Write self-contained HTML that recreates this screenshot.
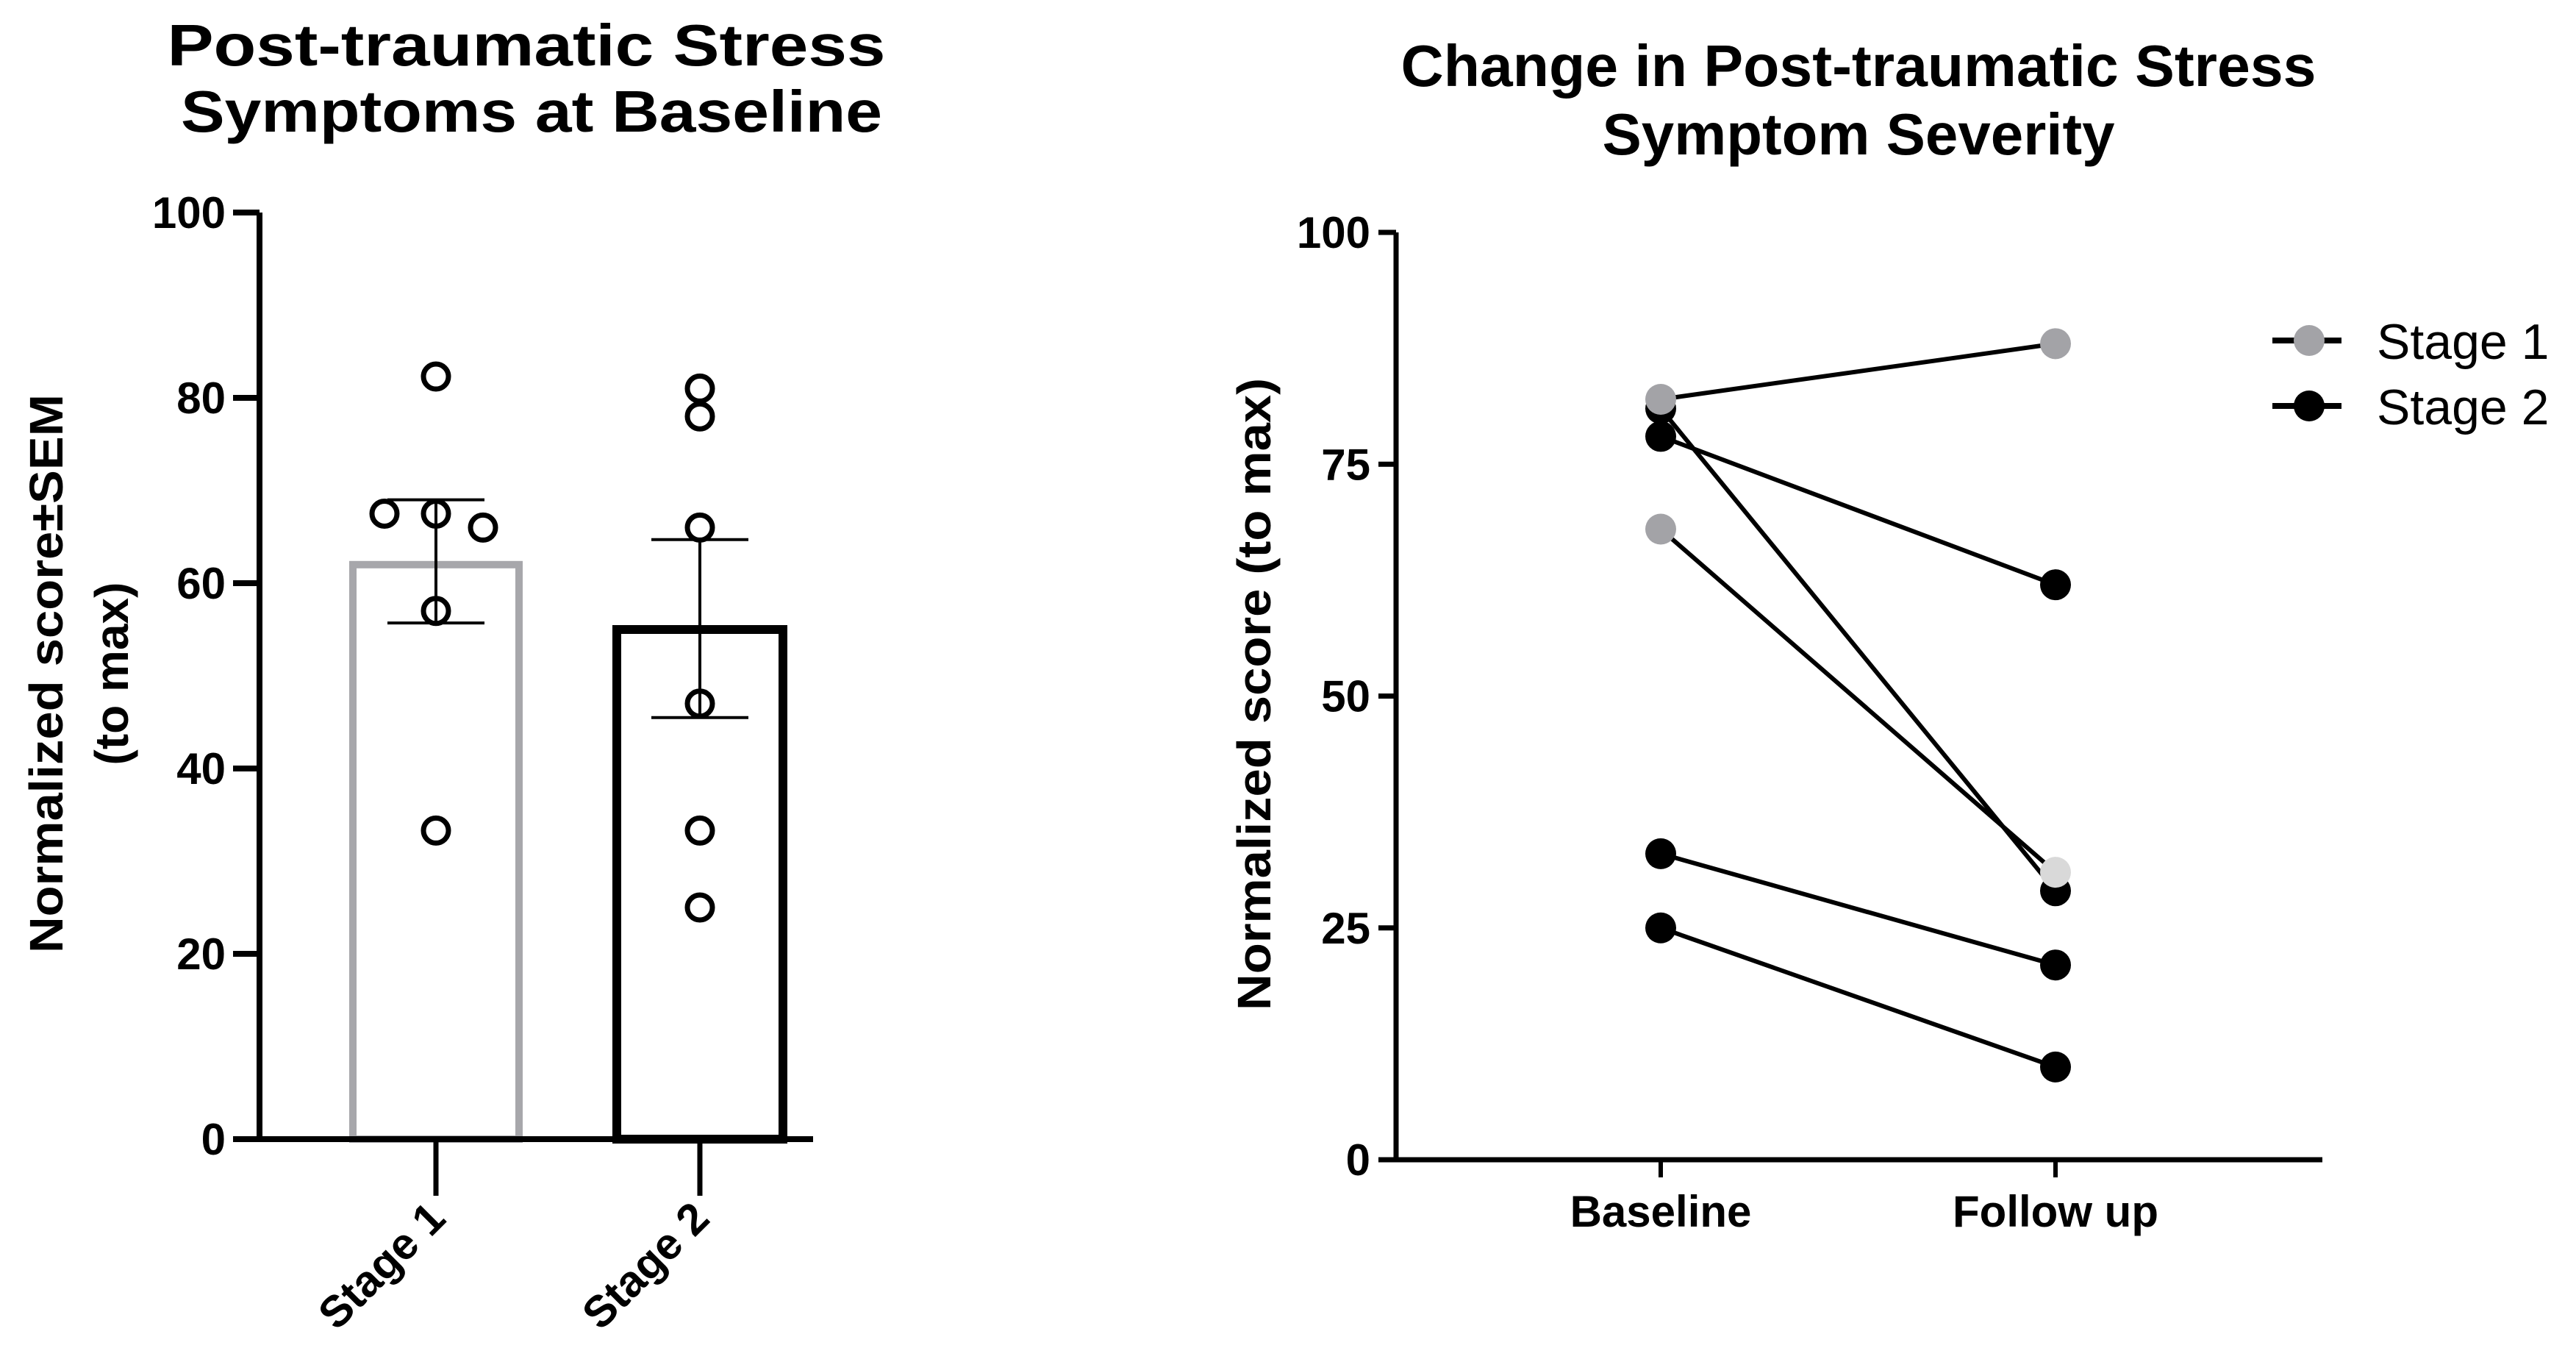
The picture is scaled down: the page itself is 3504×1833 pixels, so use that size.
<!DOCTYPE html>
<html><head><meta charset="utf-8"><style>
html,body{margin:0;padding:0;background:#fff;}
svg{display:block;font-family:"Liberation Sans",Arial,sans-serif;}
</style></head><body>
<svg id="root" width="3504" height="1833" viewBox="0 0 3504 1833" xmlns="http://www.w3.org/2000/svg">
<g id="left"></g>
<g id="right"></g>
</svg>
<script>
// ---- Left chart data ----
const barCategories = ["Stage 1", "Stage 2"];
const barMeans = [62, 55];
const barSemLow = [55.7, 45.5];
const barSemHigh = [69, 64.7];
const stage1Points = [82.3, 67.5, 67.5, 66, 57, 33.3];
const stage2Points = [81, 78, 66, 47, 33.3, 25];
const leftTicks = [0, 20, 40, 60, 80, 100];
// ---- Right chart data ----
const timeCategories = ["Baseline", "Follow up"];
const pairBaseline = [82, 68, 81, 78, 33, 25];
const pairFollow = [88, 31, 29, 62, 21, 10];
const pairGroup = [1, 1, 2, 2, 2, 2];
const rightTicks = [0, 25, 50, 75, 100];

const NS = "http://www.w3.org/2000/svg";
function mk(parent, tag, attrs, text) {
  const e = document.createElementNS(NS, tag);
  for (const k in attrs) e.setAttribute(k, attrs[k]);
  if (text !== undefined) e.textContent = text;
  parent.appendChild(e);
  return e;
}

// ===== LEFT =====
const L = document.getElementById("left");
const lx0 = 353, lx1 = 1106, ly0 = 1549, ly100 = 289;
const ly = v => ly0 - (ly0 - ly100) * v / 100;
const barCx = [593, 952];
const barHalf = 113;
const jitter1 = [0, -70, 0, 64, 0, 0];

let t = mk(L, "text", {x: 716, y: 89, "text-anchor": "middle", "font-size": 80, "font-weight": "bold", textLength: 977, lengthAdjust: "spacingAndGlyphs"}, "Post-traumatic Stress");


t = mk(L, "text", {x: 723, y: 179, "text-anchor": "middle", "font-size": 80, "font-weight": "bold", textLength: 954, lengthAdjust: "spacingAndGlyphs"}, "Symptoms at Baseline");



// bars
barMeans.forEach((m, i) => {
  const r = mk(L, "rect", {x: barCx[i] - barHalf, y: ly(m), width: barHalf * 2, height: ly0 - ly(m), fill: "#fff", stroke: i === 0 ? "#a7a7ab" : "#000", "stroke-width": i === 0 ? 10 : 12});
  
  
});
// axes
let a = mk(L, "path", {d: `M${lx0} ${ly100} V${ly0} H${lx1}`, fill: "none", stroke: "#000", "stroke-width": 8});


leftTicks.forEach(v => {
  const tk = mk(L, "line", {x1: lx0 - 36, x2: lx0, y1: ly(v), y2: ly(v), stroke: "#000", "stroke-width": 8});
  
  
  const tl = mk(L, "text", {x: 307, y: ly(v) + 21, "text-anchor": "end", "font-size": 60, "font-weight": "bold"}, String(v));
  
  
});
barCategories.forEach((c, i) => {
  const tk = mk(L, "line", {x1: barCx[i], x2: barCx[i], y1: ly0, y2: 1626, stroke: "#000", "stroke-width": 7});
  
  
  const ax = barCx[i] + 16, ay = 1660;
  const tl = mk(L, "text", {x: ax, y: ay, "text-anchor": "end", "font-size": 60, "font-weight": "bold", transform: `rotate(-45 ${ax} ${ay})`}, c);
  
  
});
// points
[stage1Points, stage2Points].forEach((pts, i) => {
  pts.forEach((v, j) => {
    const dx = i === 0 ? jitter1[j] : 0;
    const c = mk(L, "circle", {cx: barCx[i] + dx, cy: ly(v), r: 17, fill: "none", stroke: "#000", "stroke-width": 7});
    
    
  });
});
// error bars
barMeans.forEach((m, i) => {
  const cx = barCx[i];
  const e = mk(L, "path", {d: `M${cx} ${ly(barSemLow[i])} V${ly(barSemHigh[i])} M${cx - 66} ${ly(barSemHigh[i])} H${cx + 66} M${cx - 66} ${ly(barSemLow[i])} H${cx + 66}`, fill: "none", stroke: "#000", "stroke-width": 4});
  
  
});
t = mk(L, "text", {x: 0, y: 0, "text-anchor": "middle", "font-size": 64, "font-weight": "bold", transform: "translate(85 916) rotate(-90)", textLength: 760, lengthAdjust: "spacingAndGlyphs"}, "Normalized score±SEM");


t = mk(L, "text", {x: 0, y: 0, "text-anchor": "middle", "font-size": 64, "font-weight": "bold", transform: "translate(174 916) rotate(-90)"}, "(to max)");



// ===== RIGHT =====
const R = document.getElementById("right");
const rx0 = 1899, rx1 = 3159, ry0 = 1577, ry100 = 316;
const ry = v => ry0 - (ry0 - ry100) * v / 100;
const tx = [2259, 2796];

t = mk(R, "text", {x: 2528, y: 117, "text-anchor": "middle", "font-size": 80, "font-weight": "bold", textLength: 1245, lengthAdjust: "spacingAndGlyphs"}, "Change in Post-traumatic Stress");


t = mk(R, "text", {x: 2528, y: 210, "text-anchor": "middle", "font-size": 80, "font-weight": "bold", textLength: 697, lengthAdjust: "spacingAndGlyphs"}, "Symptom Severity");



a = mk(R, "path", {d: `M${rx0} ${ry100} V${ry0} H${rx1}`, fill: "none", stroke: "#000", "stroke-width": 7});


rightTicks.forEach(v => {
  const tk = mk(R, "line", {x1: rx0 - 24, x2: rx0, y1: ry(v), y2: ry(v), stroke: "#000", "stroke-width": 7});
  
  
  const tl = mk(R, "text", {x: 1864, y: ry(v) + 21, "text-anchor": "end", "font-size": 60, "font-weight": "bold"}, String(v));
  
  
});
timeCategories.forEach((c, i) => {
  const tk = mk(R, "line", {x1: tx[i], x2: tx[i], y1: ry0, y2: ry0 + 24, stroke: "#000", "stroke-width": 6});
  
  
  const tl = mk(R, "text", {x: tx[i], y: 1668, "text-anchor": "middle", "font-size": 60, "font-weight": "bold"}, c);
  
  
});
t = mk(R, "text", {x: 0, y: 0, "text-anchor": "middle", "font-size": 64, "font-weight": "bold", transform: "translate(1728 944) rotate(-90)", textLength: 860, lengthAdjust: "spacingAndGlyphs"}, "Normalized score (to max)");



pairBaseline.forEach((b, i) => {
  const ln = mk(R, "line", {x1: tx[0], y1: ry(b), x2: tx[1], y2: ry(pairFollow[i]), stroke: "#000", "stroke-width": 6});
  
  
});
// draw black first, then gray on top
[2, 1].forEach(g => {
  pairBaseline.forEach((b, i) => {
    if (pairGroup[i] !== g) return;
    const col0 = g === 1 ? "#a3a3a7" : "#000";
    const col1 = g === 1 ? (i === 1 ? "#d9d9d9" : "#a3a3a7") : "#000";
    const c0 = mk(R, "circle", {cx: tx[0], cy: ry(b), r: 21, fill: col0});
    
    
    const c1 = mk(R, "circle", {cx: tx[1], cy: ry(pairFollow[i]), r: 21, fill: col1});
    
    
  });
});
// legend
const legendLabels = ["Stage 1", "Stage 2"];
const legendY = [463, 552];
const legendColors = ["#a3a3a7", "#000"];
legendLabels.forEach((lab, i) => {
  const g = mk(R, "g", {});
  
  
  mk(g, "line", {x1: 3091, x2: 3185, y1: legendY[i], y2: legendY[i], stroke: "#000", "stroke-width": 8});
  mk(g, "circle", {cx: 3141, cy: legendY[i], r: 21, fill: legendColors[i]});
  mk(g, "text", {x: 3233, y: legendY[i] + 25, "font-size": 68}, lab);
});
</script>
</body></html>
